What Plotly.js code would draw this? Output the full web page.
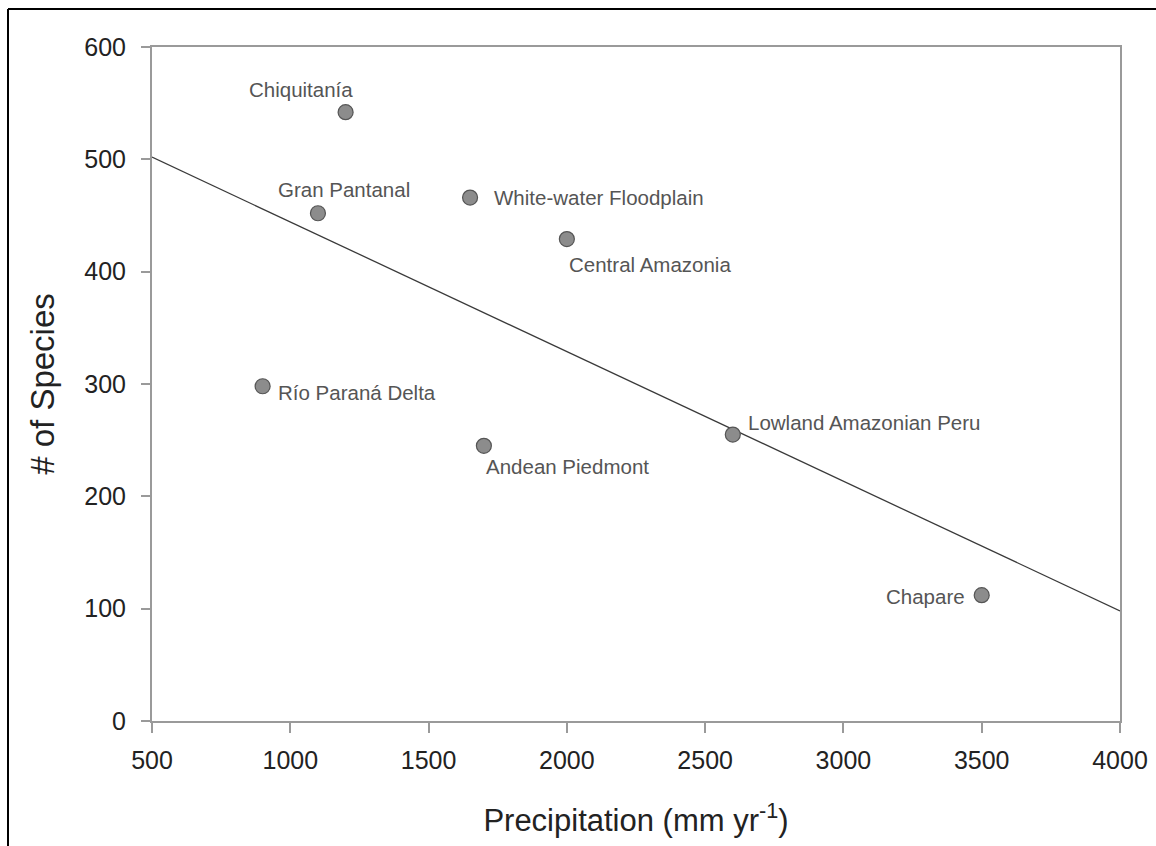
<!DOCTYPE html>
<html>
<head>
<meta charset="utf-8">
<script src="https://cdn.plot.ly/plotly-3.0.1.min.js"></script>
<style>
html,body{margin:0;padding:0;background:#fff;}
#chart{width:1156px;height:846px;}
</style>
</head>
<body>
<div id="chart"></div>
<script>
// Data
const sites = ["Chiquitanía", "Gran Pantanal", "White-water Floodplain", "Central Amazonia",
               "Río Paraná Delta", "Andean Piedmont", "Lowland Amazonian Peru", "Chapare"];
const precipitation = [1200, 1100, 1650, 2000, 900, 1700, 2600, 3500];
const species = [542, 452, 466, 429, 298, 245, 255, 112];

// Regression line end points
const fitX = [500, 4000];
const fitY = [502, 98];

const xTicks = [500, 1000, 1500, 2000, 2500, 3000, 3500, 4000];
const yTicks = [0, 100, 200, 300, 400, 500, 600];

// Label placement (style only)
const labelPlace = [
  {xanchor: "center", xshift: -45, yshift: 23},
  {xanchor: "center", xshift: 26, yshift: 24},
  {xanchor: "left", xshift: 22, yshift: 0},
  {xanchor: "left", xshift: 0, yshift: -25},
  {xanchor: "left", xshift: 13, yshift: -6},
  {xanchor: "left", xshift: 0, yshift: -21},
  {xanchor: "left", xshift: 13, yshift: 12},
  {xanchor: "right", xshift: -15, yshift: -1}
];

const fontFam = "Liberation Sans, Arial, sans-serif";
const axisCol = "#9a9a9a";

const traces = [
  {
    x: fitX, y: fitY, type: "scatter", mode: "lines",
    line: {color: "#3a3a3a", width: 1.3},
    hoverinfo: "skip", showlegend: false
  },
  {
    x: precipitation, y: species, text: sites, type: "scatter", mode: "markers",
    marker: {size: 15, color: "#8c8c8c", line: {color: "#555555", width: 1.2}},
    showlegend: false, cliponaxis: false
  }
];

const annotations = sites.map((s, i) => ({
  x: precipitation[i], y: species[i], xref: "x", yref: "y",
  text: s, showarrow: false,
  xanchor: labelPlace[i].xanchor, yanchor: "middle",
  xshift: labelPlace[i].xshift, yshift: labelPlace[i].yshift,
  font: {family: fontFam, size: 20.5, color: "#555555"}
}));

const layout = {
  width: 1156, height: 846,
  margin: {l: 152, r: 36, t: 47, b: 125},
  paper_bgcolor: "#ffffff", plot_bgcolor: "#ffffff",
  showlegend: false,
  font: {family: fontFam, color: "#222222"},
  xaxis: {
    range: [500, 4000], tickvals: xTicks, ticktext: xTicks.map(String),
    showgrid: false, zeroline: false,
    showline: true, mirror: true, linecolor: axisCol, linewidth: 2,
    ticks: "outside", ticklen: 10, tickwidth: 2, tickcolor: axisCol,
    tickfont: {family: fontFam, size: 25, color: "#222222"},
    ticklabelstandoff: 6,
    title: {text: "Precipitation (mm yr<sup>-1</sup>)", font: {family: fontFam, size: 31, color: "#222222"}, standoff: 36},
    automargin: false
  },
  yaxis: {
    range: [0, 600], tickvals: yTicks, ticktext: yTicks.map(String),
    showgrid: false, zeroline: false,
    showline: true, mirror: true, linecolor: axisCol, linewidth: 2,
    ticks: "outside", ticklen: 9, tickwidth: 2, tickcolor: axisCol,
    tickfont: {family: fontFam, size: 25, color: "#222222"},
    ticklabelstandoff: 10,
    title: {text: "# of Species", font: {family: fontFam, size: 33, color: "#222222"}, standoff: 20},
    automargin: false
  },
  annotations: annotations,
  shapes: [
    {type: "line", xref: "paper", yref: "paper",
     x0: (8 - 152) / 968, x1: (1160 - 152) / 968, y0: (721 - 9) / 674, y1: (721 - 9) / 674,
     line: {color: "#000000", width: 2}},
    {type: "line", xref: "paper", yref: "paper",
     x0: (8 - 152) / 968, x1: (8 - 152) / 968, y0: (721 - 9) / 674, y1: (721 - 850) / 674,
     line: {color: "#000000", width: 2}}
  ]
};

Plotly.newPlot("chart", traces, layout, {displayModeBar: false, staticPlot: true});
</script>
</body>
</html>
